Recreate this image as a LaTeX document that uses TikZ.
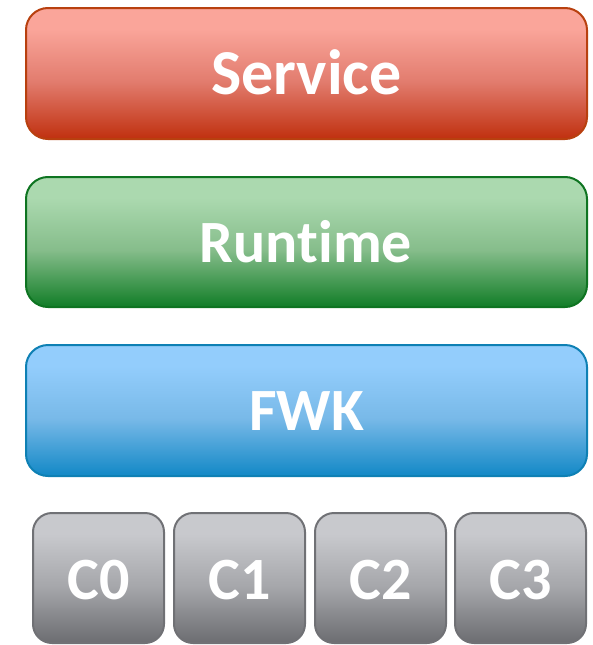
\documentclass[tikz,border=0pt]{standalone}
\usepackage{fontspec}
\setmainfont[Ligatures=NoCommon,RawFeature={-liga;-clig;-dlig}]{Carlito}
\definecolor{rTop}{HTML}{FAA59A}
\definecolor{rMid}{HTML}{E27C6E}
\definecolor{rBot}{HTML}{C0300F}
\definecolor{rLine}{HTML}{B8400F}
\definecolor{gTop}{HTML}{ABD9AF}
\definecolor{gMid}{HTML}{86BD8B}
\definecolor{gBot}{HTML}{117D27}
\definecolor{gLine}{HTML}{0E7421}
\definecolor{bTop}{HTML}{93CDFC}
\definecolor{bMid}{HTML}{78B9E8}
\definecolor{bBot}{HTML}{1288C6}
\definecolor{bLine}{HTML}{0E80B4}
\definecolor{kTop}{HTML}{C8C9CD}
\definecolor{kMid}{HTML}{A6A7AB}
\definecolor{kBot}{HTML}{6C6D71}
\definecolor{kLine}{HTML}{707175}
\pgfdeclareverticalshading{redshade}{100bp}{color(0bp)=(rBot); color(25bp)=(rBot); color(47bp)=(rMid); color(67bp)=(rTop); color(100bp)=(rTop)}
\pgfdeclareverticalshading{greenshade}{100bp}{color(0bp)=(gBot); color(25bp)=(gBot); color(47bp)=(gMid); color(67bp)=(gTop); color(100bp)=(gTop)}
\pgfdeclareverticalshading{blueshade}{100bp}{color(0bp)=(bBot); color(25bp)=(bBot); color(47bp)=(bMid); color(67bp)=(bTop); color(100bp)=(bTop)}
\pgfdeclareverticalshading{grayshade}{100bp}{color(0bp)=(kBot); color(25bp)=(kBot); color(47bp)=(kMid); color(67bp)=(kTop); color(100bp)=(kTop)}
\tikzset{
  layerbox/.style={line width=2pt, rounded corners=22pt},
  corebox/.style={line width=2pt, rounded corners=19pt},
  boxlabel/.style={text=white, font=\fontsize{60}{70}\selectfont\bfseries, anchor=base, inner sep=0pt},
  biglabel/.style={boxlabel, font=\fontsize{64}{74}\selectfont\bfseries},
}
\begin{document}
\begin{tikzpicture}[x=1pt,y=-1pt]
\useasboundingbox (0,0) rectangle (593,645);
% layers
\draw[layerbox, draw=rLine, shading=redshade] (26,8) rectangle (587,139);
\node[biglabel] (service) at (306.5,94) {Service};
\draw[layerbox, draw=gLine, shading=greenshade] (26,177) rectangle (587,307);
\node[boxlabel] (runtime) at (306,262) {Runt\kern0.01pt ime};
\draw[layerbox, draw=bLine, shading=blueshade] (26,345) rectangle (587,476);
\node[boxlabel] (fwk) at (306.5,430) {FWK};
% cores
\draw[corebox, draw=kLine, shading=grayshade] (33,513) rectangle (164,643);
\node[boxlabel] (c0) at (98.5,599) {C0};
\draw[corebox, draw=kLine, shading=grayshade] (174,513) rectangle (305,643);
\node[boxlabel] (c1) at (239.5,599) {C1};
\draw[corebox, draw=kLine, shading=grayshade] (315,513) rectangle (446,643);
\node[boxlabel] (c2) at (380.5,599) {C2};
\draw[corebox, draw=kLine, shading=grayshade] (455,513) rectangle (586,643);
\node[boxlabel] (c3) at (520.5,599) {C3};
\end{tikzpicture}
\end{document}
